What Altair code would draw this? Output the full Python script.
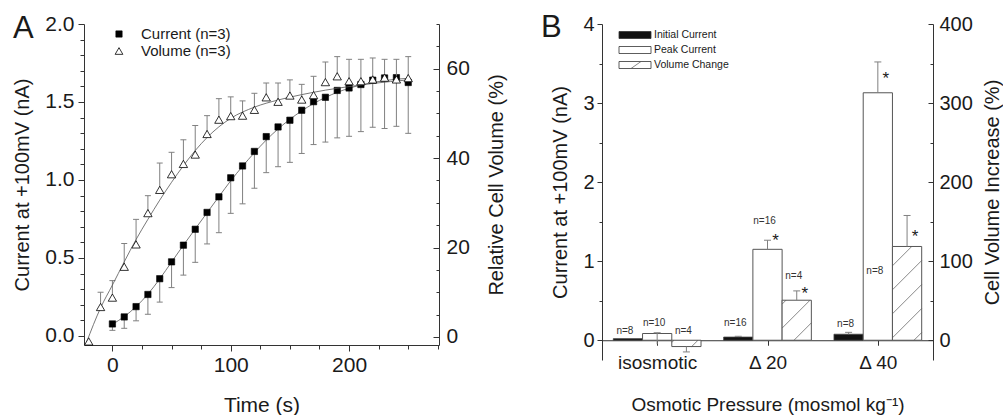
import json
import math
import altair as alt
import pandas as pd

FONT = "Liberation Sans"
INK = "#1a1a1a"
ERR = "#808080"

# ---------------- Panel A data ----------------
time_current = list(range(0, 251, 10))
current_mean = [0.077, 0.122, 0.188, 0.266, 0.367, 0.475, 0.582, 0.684, 0.792, 0.892,
                1.014, 1.090, 1.183, 1.278, 1.340, 1.383, 1.447, 1.502, 1.530, 1.574,
                1.590, 1.612, 1.640, 1.654, 1.656, 1.625]
current_lower = [0.036, 0.049, 0.097, 0.139, 0.217, 0.310, 0.390, 0.472, 0.590, 0.662,
                 0.786, 0.847, 0.947, 1.047, 1.085, 1.113, 1.170, 1.227, 1.243, 1.270,
                 1.280, 1.310, 1.338, 1.330, 1.344, 1.299]
time_volume = list(range(-20, 251, 10))
volume_mean = [-1.0, 6.7, 8.8, 15.7, 20.7, 27.7, 32.9, 36.4, 38.7, 40.8,
               45.4, 48.6, 49.4, 49.5, 50.8, 53.6, 52.6, 54.0, 53.1, 54.1,
               57.0, 58.3, 57.2, 57.2, 57.6, 58.0, 57.6, 57.9]
volume_upper = [-1.0, 10.0, 12.6, 20.9, 26.3, 31.6, 38.9, 41.3, 44.1, 47.3,
                49.5, 53.3, 53.7, 52.8, 54.5, 56.8, 56.8, 57.5, 56.5, 58.3,
                61.5, 62.7, 62.1, 62.1, 62.4, 62.1, 62.1, 62.7]
fit_current_time = list(range(0, 251, 10))
fit_current = [0.075, 0.124, 0.188, 0.268, 0.366, 0.474, 0.582, 0.686, 0.790, 0.893,
               0.995, 1.088, 1.175, 1.256, 1.327, 1.389, 1.443, 1.490, 1.529, 1.562,
               1.588, 1.609, 1.625, 1.637, 1.646, 1.652]
fit_volume_time = [-22, -10, 0, 10, 20, 30, 40, 50, 60, 70, 80, 90, 100, 120, 140, 160, 180, 200, 220, 250]
fit_volume = [-1.3, 6.5, 11.6, 16.8, 21.8, 26.3, 30.6, 34.6, 38.3, 41.7, 44.6, 47.0, 48.9,
              51.4, 53.0, 54.2, 55.2, 56.0, 56.7, 57.5]
series_a = ["Current (n=3)", "Volume (n=3)"]

# ---------------- Panel B data ----------------
groups = ["isosmotic", "\u0394 20", "\u0394 40"]
series_b = ["Initial Current", "Peak Current", "Volume Change"]
initial_current = [0.02, 0.04, 0.076]
initial_upper = [0.02, 0.05, 0.10]
peak_current = [0.085, 1.15, 3.13]
peak_upper = [0.095, 1.265, 3.52]
peak_lower = [-0.05, 1.15, 3.13]
volume_change = [-8.0, 50.6, 118.6]
volume_lower = [-14.8, 50.6, 118.6]
volume_upper_b = [-8.0, 62.4, 157.8]
n_initial = [8, 16, 8]
n_peak = [10, 16, 8]
n_volume = [4, 4, 3]
sig_peak = [False, True, True]
sig_volume = [False, True, True]
# annotation anchors (in nA units of the left axis)
nlabel_initial_y = [0.114, 0.219, 0.20]
nlabel_peak_y = [0.219, 1.509, 0.873]
nlabel_volume_y = [0.114, 0.81, 0.708]
star_peak_y = [None, 1.303, 3.352]
star_volume_y = [None, 0.632, 1.353]

# ================= Panel A =================
WA, HA = 355, 321
xA = alt.Scale(domain=[-24, 276], nice=False, zero=False)
yA_cur = alt.Scale(domain=[-0.058, 2.0], nice=False, zero=False)
yA_vol = alt.Scale(domain=[-1.8, 70], nice=False, zero=False)

major_half = "abs(datum.value*2 - round(datum.value*2)) < 1e-6"
x_axis_A = alt.Axis(title="Time (s)", values=list(range(0, 276, 25)),
                    labelExpr="datum.value % 100 === 0 ? datum.label : ''",
                    tickSize={"condition": {"test": "datum.value % 100 === 0", "value": 6}, "value": 4},
                    labelPadding=3, titlePadding=19, labelFontSize=21, titleFontSize=21,
                    labelFlush=False, labelOverlap=False)
y_axis_cur = alt.Axis(title="Current at +100mV (nA)", orient="left",
                      values=[round(i * 0.1, 1) for i in range(21)],
                      labelExpr=major_half + " ? format(datum.value, '.1f') : ''",
                      tickSize={"condition": {"test": major_half, "value": 6}, "value": 4},
                      labelPadding=4, titlePadding=12, labelFontSize=21, titleFontSize=20,
                      labelFlush=False, labelOverlap=False)
y_axis_vol = alt.Axis(title="Relative Cell Volume (%)", orient="right",
                      values=list(range(0, 71, 5)),
                      labelExpr="datum.value % 20 === 0 ? datum.label : ''",
                      tickSize={"expr": "datum.value % 20 === 0 ? -6 : -3"},
                      labelPadding=13, titlePadding=17, titleAngle=270, titleBaseline="top",
                      labelFontSize=21, titleFontSize=20, labelFlush=False, labelOverlap=False)

dfA_cur = pd.DataFrame({"t": time_current, "cur": current_mean, "lo": current_lower})
dfA_vol = pd.DataFrame({"t": time_volume, "vol": volume_mean, "hi": volume_upper})
dfA_curfit = pd.DataFrame({"t": fit_current_time, "cur": fit_current})
dfA_volfit = pd.DataFrame({"t": fit_volume_time, "vol": fit_volume})


def XA(f):
    return alt.X(f, scale=xA, axis=x_axis_A)


def YC(f):
    return alt.Y(f, scale=yA_cur, axis=y_axis_cur)


def YV(f):
    return alt.Y(f, scale=yA_vol, axis=y_axis_vol)


cA = alt.Chart(dfA_cur)
cur_whisk = cA.mark_rule(color=ERR, strokeWidth=1).encode(x=XA("t:Q"), y=YC("lo:Q"), y2="cur:Q")
cur_cap = cA.mark_rule(color=ERR, strokeWidth=1, xOffset=-3, x2Offset=3).encode(
    x=XA("t:Q"), x2="t:Q", y=YC("lo:Q"))
cur_fit = alt.Chart(dfA_curfit).mark_line(color="#555", strokeWidth=0.8, interpolate="monotone").encode(
    x=XA("t:Q"), y=YC("cur:Q"))
cur_pts = cA.mark_point(filled=True, shape="square", fill="black", stroke="black", strokeWidth=0.6,
                        size=40, opacity=1).encode(x=XA("t:Q"), y=YC("cur:Q"))
left_A = alt.layer(cur_whisk, cur_cap, cur_fit, cur_pts)

cV = alt.Chart(dfA_vol)
vol_whisk = cV.mark_rule(color=ERR, strokeWidth=1).encode(x=XA("t:Q"), y=YV("vol:Q"), y2="hi:Q")
vol_cap = cV.transform_filter("datum.hi > datum.vol").mark_rule(
    color=ERR, strokeWidth=1, xOffset=-3, x2Offset=3).encode(x=XA("t:Q"), x2="t:Q", y=YV("hi:Q"))
vol_fit = alt.Chart(dfA_volfit).mark_line(color="#555", strokeWidth=0.8, interpolate="monotone").encode(
    x=XA("t:Q"), y=YV("vol:Q"))
vol_pts = cV.mark_point(filled=True, shape="triangle-up", fill="white", stroke="black", strokeWidth=0.8,
                        size=70, opacity=1).encode(x=XA("t:Q"), y=YV("vol:Q"))
right_A = alt.layer(vol_whisk, vol_cap, vol_fit, vol_pts)

# custom legend for panel A (pixel layout relative to plot area)
legA = pd.DataFrame({"name": series_a, "row": [0, 1]})
legA_base = alt.Chart(legA).transform_calculate(
    sx="35", sy="10 + 17*datum.row", tx="57")
legA_sym_sq = legA_base.transform_filter("datum.row == 0").mark_point(
    filled=True, shape="square", fill="black", stroke="black", strokeWidth=0.6, size=40, opacity=1).encode(
    x=alt.X("sx:Q", scale=None), y=alt.Y("sy:Q", scale=None))
legA_sym_tri = legA_base.transform_filter("datum.row == 1").mark_point(
    filled=True, shape="triangle-up", fill="white", stroke="black", strokeWidth=0.8, size=60, opacity=1).encode(
    x=alt.X("sx:Q", scale=None), y=alt.Y("sy:Q", scale=None))
legA_txt = legA_base.mark_text(align="left", baseline="middle", fontSize=15, font=FONT, color=INK).encode(
    x=alt.X("tx:Q", scale=None), y=alt.Y("sy:Q", scale=None), text="name:N")

letterA = alt.Chart(pd.DataFrame({"txt": ["A"]})).mark_text(
    align="left", baseline="alphabetic", fontSize=31, font=FONT, color=INK).encode(
    text="txt:N", x=alt.value(-71), y=alt.value(14))

panelA = alt.layer(left_A, right_A, legA_sym_sq, legA_sym_tri, legA_txt, letterA).resolve_scale(
    y="independent").properties(width=WA, height=HA)

# ================= Panel B =================
WB, HB = 331, 336
XMAX = 3.0
YB_CUR = [-0.25, 4.0]
YB_VOL = [-25.0, 400.0]
BW = 0.265
px_x = WB / XMAX
px_vol = HB / (YB_VOL[1] - YB_VOL[0])

rows = []
vals = [initial_current, peak_current, volume_change]
los = [initial_current, peak_lower, volume_lower]
his = [initial_upper, peak_upper, volume_upper_b]
ns = [n_initial, n_peak, n_volume]
sigs = [[False] * 3, sig_peak, sig_volume]
nly = [nlabel_initial_y, nlabel_peak_y, nlabel_volume_y]
sty = [[None] * 3, star_peak_y, star_volume_y]
for gi, g in enumerate(groups):
    for si, s in enumerate(series_b):
        xc = gi + 0.5 + (si - 1) * BW
        v, lo, hi = vals[si][gi], los[si][gi], his[si][gi]
        rows.append({"group": g, "series": s, "xc": xc, "x1": xc - BW / 2, "x2": xc + BW / 2,
                     "value": v, "lo": lo, "hi": hi, "cap": hi if v >= 0 else lo,
                     "has_err": hi > lo, "zero": 0.0, "n": "n=%d" % ns[si][gi],
                     "sig": sigs[si][gi], "label_y": nly[si][gi],
                     "star_y": sty[si][gi] if sty[si][gi] is not None else 0.0})
dfB = pd.DataFrame(rows)
dfB_cur = dfB[dfB.series != "Volume Change"]
dfB_vol = dfB[dfB.series == "Volume Change"]


def hatch_segments(x_lo, x_hi, v, spacing=24.0, slope=1.0):
    X0, X1 = x_lo * px_x, x_hi * px_x
    Y0, Y1 = sorted([0.0, v * px_vol])
    segs = []
    cmin = Y0 - slope * X1
    cmax = Y1 - slope * X0
    for j in range(math.ceil(cmin / spacing), math.floor(cmax / spacing) + 1):
        c = j * spacing
        xa = max(X0, (Y0 - c) / slope)
        xb = min(X1, (Y1 - c) / slope)
        if xb - xa > 0.6:
            segs.append({"hx1": xa / px_x, "hy1": (slope * xa + c) / px_vol,
                         "hx2": xb / px_x, "hy2": (slope * xb + c) / px_vol})
    return segs


hatch_rows = []
for _, r in dfB_vol.iterrows():
    hatch_rows += hatch_segments(r.x1, r.x2, r.value)
dfHatch = pd.DataFrame(hatch_rows)

xB = alt.Scale(domain=[0, XMAX], nice=False, zero=False)
yB_cur = alt.Scale(domain=YB_CUR, nice=False, zero=False)
yB_vol = alt.Scale(domain=YB_VOL, nice=False, zero=False)
zero_offset = -(0 - YB_CUR[0]) * HB / (YB_CUR[1] - YB_CUR[0])

label_expr_b = json.dumps(groups, ensure_ascii=False) + "[floor(datum.value)]"
x_axis_B = alt.Axis(title="Osmotic Pressure (mosmol kg\u207b\u00b9)", values=[0.5, 1.5, 2.5],
                    labelExpr=label_expr_b, offset=zero_offset, tickSize=5, labelPadding=8,
                    labelFontSize=19, titleFontSize=19, titlePadding=23,
                    labelFlush=False, labelOverlap=False)
y_axis_B_cur = alt.Axis(title="Current at +100mV (nA)", orient="left",
                        values=[i * 0.5 for i in range(9)],
                        labelExpr="datum.value % 1 === 0 ? format(datum.value, 'd') : ''",
                        tickSize={"condition": {"test": "datum.value % 1 === 0", "value": 5}, "value": 3},
                        labelPadding=3, titlePadding=12, labelFontSize=20, titleFontSize=20,
                        labelFlush=False, labelOverlap=False)
y_axis_B_vol = alt.Axis(title="Cell Volume Increase (%)", orient="right",
                        values=list(range(0, 401, 50)),
                        labelExpr="datum.value % 100 === 0 ? format(datum.value, 'd') : ''",
                        tickSize={"expr": "datum.value % 100 === 0 ? -5 : -3"},
                        labelPadding=11, titlePadding=10, titleAngle=270, titleBaseline="top",
                        labelFontSize=20, titleFontSize=20, labelFlush=False, labelOverlap=False)


def XB(f):
    return alt.X(f, scale=xB, axis=x_axis_B)


def YBC(f):
    return alt.Y(f, scale=yB_cur, axis=y_axis_B_cur)


def YBV(f):
    return alt.Y(f, scale=yB_vol, axis=y_axis_B_vol)


cB = alt.Chart(dfB_cur)
init_bar = cB.transform_filter("datum.series == 'Initial Current'").mark_rect(
    fill="#111", stroke="#444", strokeWidth=0.8).encode(
    x=XB("x1:Q"), x2="x2:Q", y=YBC("value:Q"), y2="zero:Q")
peak_bar = cB.transform_filter("datum.series == 'Peak Current'").mark_rect(
    fill="white", stroke="#555", strokeWidth=1).encode(
    x=XB("x1:Q"), x2="x2:Q", y=YBC("value:Q"), y2="zero:Q")
cur_whisk_B = cB.transform_filter("datum.has_err").mark_rule(color=ERR, strokeWidth=1).encode(
    x=XB("xc:Q"), y=YBC("lo:Q"), y2="hi:Q")
cur_cap_B = cB.transform_filter("datum.has_err").mark_rule(
    color=ERR, strokeWidth=1, xOffset=-3.5, x2Offset=3.5).encode(
    x=XB("xc:Q"), x2="xc:Q", y=YBC("cap:Q"))
n_text = alt.Chart(dfB).mark_text(fontSize=10, font=FONT, color="#333", baseline="middle", dx=-3).encode(
    x=XB("xc:Q"), y=YBC("label_y:Q"), text="n:N")
stars = alt.Chart(dfB).transform_filter("datum.sig").mark_text(
    fontSize=17, font=FONT, color=INK, baseline="alphabetic", dx=8, dy=9).encode(
    x=XB("xc:Q"), y=YBC("star_y:Q"), text=alt.value("*"))
left_B = alt.layer(init_bar, peak_bar, cur_whisk_B, cur_cap_B, n_text, stars)

cBv = alt.Chart(dfB_vol)
vol_bar = cBv.mark_rect(fill="white", stroke="#555", strokeWidth=1).encode(
    x=XB("x1:Q"), x2="x2:Q", y=YBV("value:Q"), y2="zero:Q")
hatch = alt.Chart(dfHatch).mark_rule(color="#555", strokeWidth=0.7).encode(
    x=XB("hx1:Q"), x2="hx2:Q", y=YBV("hy1:Q"), y2="hy2:Q")
vol_whisk_B = cBv.transform_filter("datum.has_err").mark_rule(color=ERR, strokeWidth=1).encode(
    x=XB("xc:Q"), y=YBV("lo:Q"), y2="hi:Q")
vol_cap_B = cBv.transform_filter("datum.has_err").mark_rule(
    color=ERR, strokeWidth=1, xOffset=-3.5, x2Offset=3.5).encode(
    x=XB("xc:Q"), x2="xc:Q", y=YBV("cap:Q"))
right_B = alt.layer(vol_bar, hatch, vol_whisk_B, vol_cap_B)

# custom legend for panel B (pixel layout relative to plot area)
LEG_X0, LEG_W, LEG_Y0, LEG_DY, LEG_H = 17, 32, 11, 15, 7
legB = pd.DataFrame({"name": series_b, "row": [0, 1, 2], "fill": ["#111", "white", "white"],
                     "hatched": [False, False, True]})
legBase = alt.Chart(legB).transform_calculate(
    lx0="%f" % LEG_X0, lx1="%f" % (LEG_X0 + LEG_W),
    ly0="%f + %f*datum.row - %f" % (LEG_Y0, LEG_DY, LEG_H / 2),
    ly1="%f + %f*datum.row + %f" % (LEG_Y0, LEG_DY, LEG_H / 2),
    lyc="%f + %f*datum.row" % (LEG_Y0, LEG_DY),
    hx0="%f" % (LEG_X0 + 12), hx1="%f" % (LEG_X0 + 22),
    tx="%f" % (LEG_X0 + LEG_W + 3))
leg_rect = legBase.mark_rect(stroke="#333", strokeWidth=0.8).encode(
    x=alt.X("lx0:Q", scale=None), x2="lx1:Q",
    y=alt.Y("ly0:Q", scale=None), y2="ly1:Q", fill=alt.Fill("fill:N", scale=None))
leg_hatch = legBase.transform_filter("datum.hatched").mark_rule(color="#555", strokeWidth=0.7).encode(
    x=alt.X("hx0:Q", scale=None), x2="hx1:Q", y=alt.Y("ly1:Q", scale=None), y2="ly0:Q")
leg_text = legBase.mark_text(align="left", baseline="middle", fontSize=10.5, font=FONT, color=INK).encode(
    x=alt.X("tx:Q", scale=None), y=alt.Y("lyc:Q", scale=None), text="name:N")

letterB = alt.Chart(pd.DataFrame({"txt": ["B"]})).mark_text(
    align="left", baseline="alphabetic", fontSize=31, font=FONT, color=INK).encode(
    text="txt:N", x=alt.value(-61), y=alt.value(13))

panelB = alt.layer(left_B, right_B, leg_rect, leg_hatch, leg_text, letterB).resolve_scale(
    y="independent").properties(width=WB, height=HB)

chart = alt.hconcat(panelA, panelB, spacing=34).configure(
    font=FONT, padding={"left": 12, "top": 12, "right": 0, "bottom": 0}
).configure_view(stroke=None).configure_axis(
    labelFont=FONT, titleFont=FONT, labelColor=INK, titleColor=INK, titleFontWeight="normal",
    domainColor="#333", tickColor="#333", domainWidth=1, tickWidth=1, grid=False)

chart.save("out.html", embed_options={"renderer": "svg", "actions": False})
